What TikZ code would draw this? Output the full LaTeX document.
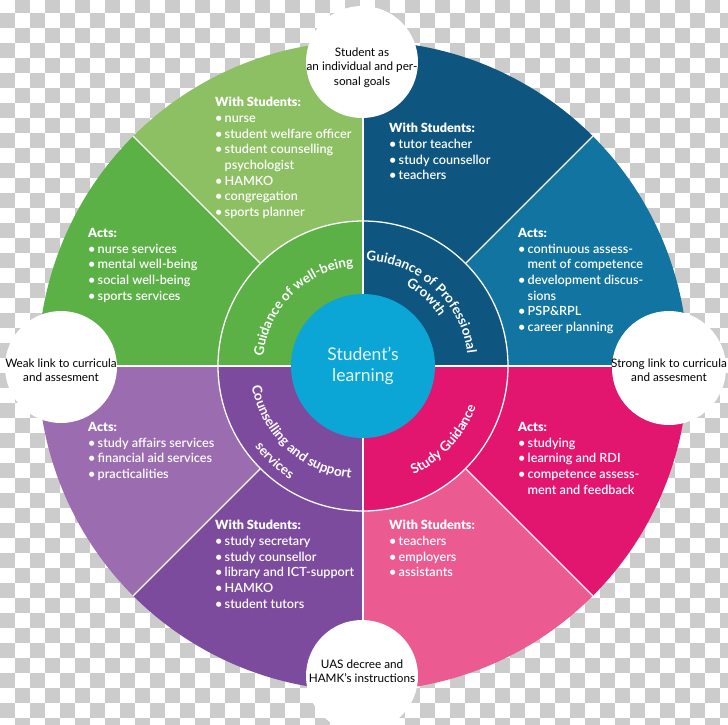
\documentclass[tikz,border=0pt]{standalone}
\usepackage{fontspec}
\setmainfont{Lato}
\newfontfamily\listfont{Lato Semibold}
\usetikzlibrary{decorations.text}

\definecolor{greenlight}{HTML}{8DC063}
\definecolor{greendark}{HTML}{5BB046}
\definecolor{navyblue}{HTML}{0E567F}
\definecolor{tealblue}{HTML}{1274A0}
\definecolor{pinkdark}{HTML}{E3166F}
\definecolor{pinklight}{HTML}{EB5A90}
\definecolor{purplelight}{HTML}{9B6DB0}
\definecolor{purpledark}{HTML}{7D4B9E}
\definecolor{corecyan}{HTML}{0BA6D5}
\definecolor{coretext}{HTML}{E8F6FB}

\newcommand\blt{\makebox[0.75em][l]{\textbullet}}
\newcommand\ringfont{\bfseries\fontsize{11.5}{13}\selectfont}

\begin{document}
\begin{tikzpicture}[
        x=0.03cm, y=0.03cm,
        tile/.style={fill=black!20},
        divider/.style={draw=white, line width=1.1pt},
        listtext/.style={
            anchor=north west,
            inner sep=0pt,
            align=left,
            text=white,
            font=\listfont\fontsize{10.8}{13.4}\selectfont
        },
        bubble/.style={fill=white},
        notetext/.style={
            align=center,
            inner sep=0pt,
            text=black,
            font=\fontsize{10}{12.4}\selectfont
        },
        ringtext/.style={
            decorate,
            decoration={text along path, text align=center,
                text={|\ringfont\color{white}|#1}}
        }
    ]

    \useasboundingbox (0,0) rectangle (728,-724);
    \clip (0,0) rectangle (728,-724);
    \fill[white] (0,0) rectangle (728,-724);

    % transparency checkerboard behind the wheel
    \foreach \i in {0,...,48}
        \foreach \j in {0,...,49} {
            \pgfmathtruncatemacro\chk{mod(\i+\j,2)}
            \ifnum\chk=1
                \fill[tile] (\i*15,-\j*15+1.7) rectangle ++(15,-15);
            \fi
        }

    \coordinate (ctr) at (363,-366);

    % outer sectors
    \foreach \a/\col in {0/tealblue,45/navyblue,90/greenlight,135/greendark,
            180/purplelight,225/purpledark,270/pinklight,315/pinkdark}
        \fill[\col] (ctr) -- ++(\a:325)
            arc[start angle=\a, delta angle=45, radius=325] -- cycle;

    % inner ring
    \foreach \a/\col in {0/navyblue,90/greendark,180/purpledark,270/pinkdark}
        \fill[\col] (ctr) -- ++(\a:145)
            arc[start angle=\a, delta angle=90, radius=145] -- cycle;

    \foreach \a in {0,90,180,270}
        \draw[divider] (ctr) -- ++(\a:325);
    \foreach \a in {45,135,225,315}
        \draw[divider] (ctr) ++(\a:145) -- ++(\a:180);
    \draw[divider] (ctr) circle[radius=145];

    \fill[corecyan] (ctr) circle[radius=72];
    \node[text=coretext, align=center, inner sep=0pt,
        font=\fontsize{15}{18}\selectfont] (core) at (ctr) {Student’s\\learning};

    % texts on the ring
    \path[ringtext=Guidance of well-being]
        (ctr) ++(180:100) arc[start angle=180, end angle=90, radius=100];
    \path[ringtext=Guidance of Professional]
        (ctr) ++(92.5:105) arc[start angle=92.5, end angle=2.5, radius=105];
    \path[ringtext=Growth]
        (ctr) ++(90:91) arc[start angle=90, end angle=5, radius=91];
    \path[ringtext=Counselling and support]
        (ctr) ++(182:113) arc[start angle=182, end angle=272, radius=113];
    \path[ringtext=services]
        (ctr) ++(182:135) arc[start angle=182, end angle=272, radius=135];
    \path[ringtext=Study Guidance]
        (ctr) ++(-87.5:120) arc[start angle=-87.5, end angle=2.5, radius=120];

    % sector lists
    \node[listtext] (wellwith) at (215,-97) {\textbf{With Students:}\\
        \blt nurse\\ \blt student welfare officer\\ \blt student counselling\\
        \hspace*{0.75em}psychologist\\ \blt HAMKO\\ \blt congregation\\
        \blt sports planner};
    \node[listtext] (growwith) at (389,-123) {\textbf{With Students:}\\
        \blt tutor teacher\\ \blt study counsellor\\ \blt teachers};
    \node[listtext] (wellacts) at (88,-228) {\textbf{Acts:}\\
        \blt nurse services\\ \blt mental well-being\\ \blt social well-being\\
        \blt sports services};
    \node[listtext] (growacts) at (518,-228) {\textbf{Acts:}\\
        \blt continuous assess-\\ \hspace*{0.75em}ment of competence\\
        \blt development discus-\\ \hspace*{0.75em}sions\\ \blt PSP\&RPL\\
        \blt career planning};
    \node[listtext] (suppacts) at (88,-422) {\textbf{Acts:}\\
        \blt study affairs services\\ \blt financial aid services\\
        \blt practicalities};
    \node[listtext] (studacts) at (518,-422) {\textbf{Acts:}\\
        \blt studying\\ \blt learning and RDI\\ \blt competence assess-\\
        \hspace*{0.75em}ment and feedback};
    \node[listtext] (suppwith) at (215,-520) {\textbf{With Students:}\\
        \blt study secretary\\ \blt study counsellor\\
        \blt library and ICT-support\\ \blt HAMKO\\ \blt student tutors};
    \node[listtext] (studwith) at (389,-520) {\textbf{With Students:}\\
        \blt teachers\\ \blt employers\\ \blt assistants};

    % white circles on the rim
    \fill[bubble] (362,-62) circle[radius=56];
    \fill[bubble] (61,-367) circle[radius=56];
    \fill[bubble] (669,-368) circle[radius=57];
    \fill[bubble] (362,-676) circle[radius=56];

    \node[notetext] (goals) at (362,-67.5)
        {Student as\\an individual and per-\\sonal goals};
    \node[notetext] (weak) at (61,-370) {Weak link to curricula\\and assesment};
    \node[notetext] (strong) at (669,-370) {Strong link to curricula\\and assesment};
    \node[notetext] (decree) at (362,-671) {UAS decree and\\HAMK’s instructions};

\end{tikzpicture}
\end{document}
